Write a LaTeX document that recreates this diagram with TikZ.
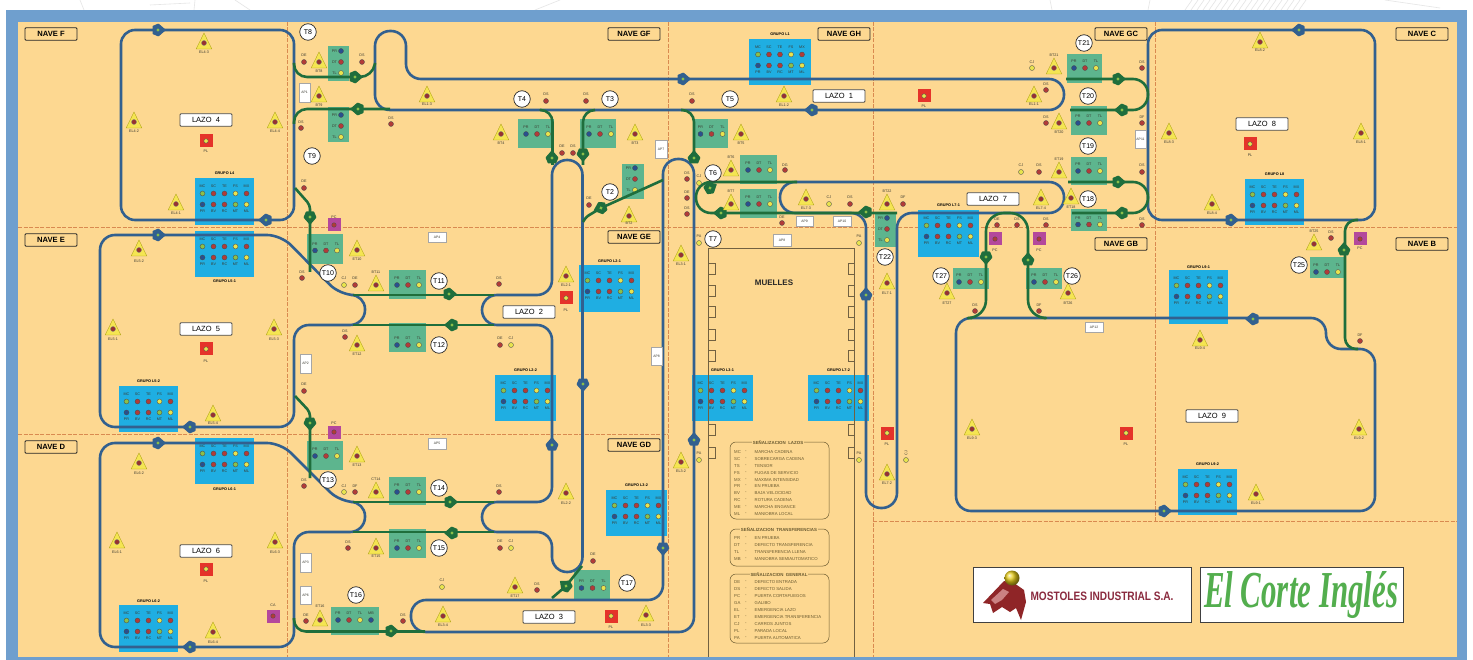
\documentclass[tikz,border=0pt]{standalone}
\usepackage{fontspec}
\setmainfont{Liberation Sans}
\newfontfamily\cifont{Liberation Serif}
\definecolor{frameblue}{HTML}{6F9FCE}
\definecolor{cream}{HTML}{FDD891}
\definecolor{dashc}{HTML}{D98A50}
\definecolor{grpblue}{HTML}{1FAEE2}
\definecolor{trgreen}{HTML}{5DB58E}
\definecolor{convblue}{HTML}{32608F}
\definecolor{convgreen}{HTML}{1F6E3C}
\definecolor{lred}{HTML}{B23B38}
\definecolor{lblue}{HTML}{28508F}
\definecolor{lgreen}{HTML}{8CC04A}
\definecolor{lyel}{HTML}{E8E44E}
\definecolor{triy}{HTML}{F5E552}
\definecolor{pred}{HTML}{E5332A}
\definecolor{ppur}{HTML}{B4489C}
\definecolor{lbltxt}{HTML}{3A3A30}
\definecolor{legtxt}{HTML}{6A5A30}
\definecolor{logored}{HTML}{A82C2E}
\definecolor{logotxt}{HTML}{8A2A3E}
\definecolor{logogreen}{HTML}{53AE4E}
\newcounter{nn}
\newcommand\nid{\stepcounter{nn}}
\newcommand\smallf{\fontsize{3.7}{4}\selectfont}
\tikzset{
  conv/.style={draw=convblue,line width=2.6pt,line join=round},
  convg/.style={draw=convgreen,line width=2.6pt,line join=round},
  lampst/.style={circle,draw=black!70,line width=.35pt,minimum size=5pt,inner sep=0pt},
  lblst/.style={inner sep=0pt,font=\smallf,text=lbltxt},
  navest/.style={draw=black!85,fill=cream,rounded corners=1pt,line width=.9pt,minimum width=52pt,minimum height=12.5pt,inner sep=0pt,text=black,font=\fontsize{7.6}{8}\selectfont\bfseries},
  lazost/.style={draw=black!70,fill=white,rounded corners=1pt,line width=.8pt,minimum width=52pt,minimum height=12.5pt,inner sep=0pt,font=\fontsize{7.5}{8}\selectfont},
  tcirc/.style={circle,draw=black!85,fill=white,line width=.7pt,minimum size=16.5pt,inner sep=0pt,font=\fontsize{7}{7}\selectfont},
  apst/.style={draw=black!35,fill=white,line width=.4pt,inner sep=0pt,font=\fontsize{3.4}{4}\selectfont,text=lbltxt},
  dashst/.style={draw=dashc,line width=.9pt,dash pattern=on 4pt off 1.5pt},
  muelle/.style={draw=black!55!cream,line width=.9pt},
  legst/.style={draw=legtxt,line width=.5pt,rounded corners=6pt},
  legtext/.style={inner sep=0pt,font=\fontsize{4.3}{5}\selectfont,text=legtxt,anchor=west},
  legtitle/.style={fill=cream,inner sep=1pt,font=\fontsize{4.4}{5}\selectfont\bfseries,text=legtxt},
}
\newcommand\lamp[3]{\nid\node[lampst,fill=#3] (n\thenn) at (#1,#2) {};}
\newcommand\lbl[3]{\nid\node[lblst] (n\thenn) at (#1,#2) {#3};}
\newcommand\lampt[5]{\lamp{#1}{#2}{#3}\lbl{#1}{#5}{#4}}
\newcommand\tri[4]{%
  \fill[triy,draw=olive!70!triy,line width=.35pt] (#1,#2-10) -- (#1+7.8,#2+6) -- (#1-7.8,#2+6) -- cycle;
  \nid\node[lampst,fill=lred!85!black,minimum size=5pt,draw=black!50] (n\thenn) at (#1,#2) {};
  \lbl{#1}{#4}{#3}}
\newcommand\grupo[6]{%
  \nid\fill[grpblue] (#1,#2) rectangle (#1+#3,#2+#4);
  \nid\node[inner sep=0pt,font=\fontsize{3.8}{4}\selectfont\bfseries] (n\thenn) at (#1+#3/2,#6) {#5};
  \foreach \dx/\a/\ca/\b/\cb in {-22/MC/lgreen/PR/lblue,-11/SC/lred/BV/lred,0/TE/lred/RC/lred,11/FS/lyel/MT/lgreen,22/MX/lred/ML/lyel}{
    \lbl{#1+#3/2+\dx}{#2+8}{\a}
    \lamp{#1+#3/2+\dx}{#2+15.5}{\ca}
    \lamp{#1+#3/2+\dx}{#2+26.5}{\cb}
    \lbl{#1+#3/2+\dx}{#2+33}{\b}
  }}
\newcommand\transH[6]{%
  \fill[trgreen] (#1,#2) rectangle (#3,#4);
  \foreach \dx/\a/\ca in {0/PR/lblue,11/DT/lred,22/TL/lyel}{
    \lbl{#5+\dx}{#6-6.5}{\a}
    \lamp{#5+\dx}{#6}{\ca}}}
\newcommand\transV[6]{%
  \fill[trgreen] (#1,#2) rectangle (#3,#4);
  \foreach \dy/\a/\ca in {0/PR/lblue,11/DT/lred,22/TL/lyel}{
    \lbl{#5-6.5}{#6+\dy}{\a}
    \lamp{#5}{#6+\dy}{\ca}}}
\newcommand\mk[4]{%
  \begin{scope}[shift={(#1,#2)},rotate=#3]
    \fill[#4,rounded corners=.6pt] (-5.5,-4) -- (0.5,-6.5) -- (8,0) -- (0.5,6.5) -- (-5.5,4) -- cycle;
    \fill[lgreen] (0,0) circle (1.7pt);
  \end{scope}}
\newcommand\plbox[3]{%
  \nid\node[fill=pred,minimum size=13pt,inner sep=0pt] (n\thenn) at (#1,#2) {};
  \nid\node[lampst,fill=lyel,minimum size=4.5pt] (n\thenn) at (#1,#2) {};
  \lbl{#1}{#3}{PL}}
\newcommand\pcbox[4]{%
  \nid\node[fill=ppur,minimum size=13pt,inner sep=0pt] (n\thenn) at (#1,#2) {};
  \nid\node[lampst,fill=lred,minimum size=4.5pt] (n\thenn) at (#1,#2) {};
  \lbl{#1}{#3}{#4}}
\newcommand\apb[6]{\nid\node[apst,minimum width=#3pt,minimum height=#4pt,#6] (n\thenn) at (#1,#2) {#5};}
\begin{document}
\begin{tikzpicture}[x=1pt,y=-1pt]
\useasboundingbox (0,0) rectangle (1473,660);
\fill[white] (0,0) rectangle (1473,660);
% faint sketch behind the top edge
\draw[black!10,line width=.6pt] (80,0) -- (84,10) (235,0) -- (250,10) (150,5) -- (190,3) (195,0) -- (194,10) (560,0) -- (535,10) (1050,0) -- (1052,10) (1150,0) -- (1148,10) (1385,0) -- (1440,8);
\foreach \x in {1185,1191,...,1300}{\draw[black!10,line width=.6pt] (\x,10) -- (\x+7,0);}
\fill[frameblue] (6,10) rectangle (1467,660);
\fill[cream] (18,22) rectangle (1457,657);
% dashed zones
\draw[dashst] (18,227) -- (1457,227);
\draw[dashst] (18,434) -- (668,434);
\draw[dashst] (873,521) -- (1457,521);
\draw[dashst] (287,22) -- (287,657);
\draw[dashst] (668,22) -- (668,657);
\draw[dashst] (873,22) -- (873,657);
\draw[dashst] (1155.5,22) -- (1155.5,521);
% groups
\grupo{195}{178}{59}{47}{GRUPO L4}{173}
\grupo{195}{231}{59}{46}{GRUPO L5-1}{281}
\grupo{119}{386}{59}{46}{GRUPO L5-2}{381}
\grupo{195}{438}{59}{46}{GRUPO L6-1}{489}
\grupo{119}{605}{59}{47}{GRUPO L6-2}{601}
\grupo{749}{39}{62}{46}{GRUPO L1}{34}
\grupo{579}{265}{61}{47}{GRUPO L2-1}{261}
\grupo{495}{375}{61}{46}{GRUPO L2-2}{370}
\grupo{606}{490}{61}{46}{GRUPO L3-2}{485}
\grupo{692}{375}{61}{46}{GRUPO L3-1}{370}
\grupo{808}{375}{61}{46}{GRUPO L7-2}{370}
\grupo{918}{210}{61}{47}{GRUPO L7-1}{205}
\grupo{1245}{179}{59}{46}{GRUPO L8}{174}
\grupo{1169}{270}{59}{54}{GRUPO L9-1}{267}
\grupo{1178}{469}{59}{46}{GRUPO L9-2}{464}
% transfers
\transV{328}{46}{349}{81}{341}{51}
\transV{328}{107}{349}{142}{341}{115}
\transH{307}{234}{343}{264}{315}{250.5}
\transH{389}{270}{426}{299}{397}{285}
\transH{389}{323}{426}{352}{397}{345}
\transH{307}{441}{343}{470}{315}{456}
\transH{389}{477}{426}{505}{397}{492}
\transH{389}{529}{426}{558}{397}{548}
\transH{331}{607}{379}{635}{338}{620}
\lbl{371}{613.5}{MB}\lamp{371}{620}{lblue}
\transH{574}{570}{610}{599}{581.5}{588}
\transH{518}{119}{554}{148}{526}{134}
\transH{580}{119}{616}{148}{589}{134}
\transV{622}{164}{644}{199}{635}{168}
\transH{693}{119}{728}{148}{700.5}{134}
\transH{740}{155}{777}{184}{748}{170}
\transH{740}{189}{777}{218}{748}{204}
\transV{875}{213}{896}{247}{887}{218}
\transH{1067}{54}{1102}{83}{1074}{68}
\transH{1071}{106}{1107}{135}{1078}{123}
\transH{1071}{157}{1107}{185}{1078}{171}
\transH{1071}{209}{1107}{231}{1078}{224.5}
\transH{953}{268}{989}{289}{959}{282}
\transH{1026}{268}{1062}{289}{1034}{282}
\transH{1310}{257}{1346}{278}{1316}{272}
% muelles
\draw[muelle] (708.5,657) -- (708.5,248) -- (854,248) -- (854,657);
\foreach \y in {269,291,312,335,356,430,453}{
  \draw[muelle,line width=.7pt] (709,\y-5.5) -- (715,\y-5.5) -- (715,\y+5.5) -- (709,\y+5.5);
  \draw[muelle,line width=.7pt] (854,\y-5.5) -- (848,\y-5.5) -- (848,\y+5.5) -- (854,\y+5.5);
}
\nid\node[inner sep=0pt,font=\fontsize{8}{8}\selectfont\bfseries,text=black!85] (n\thenn) at (774,283) {MUELLES};
% loops
\draw[conv,rounded corners=14pt] (200,30) -- (294,30) -- (294,220) -- (121,220) -- (121,30) -- cycle;
\draw[conv,rounded corners=14pt] (1250,30) -- (1375,30) -- (1375,220) -- (1148,220) -- (1148,30) -- cycle;
\draw[conv,rounded corners=14pt] (150,235) -- (281,235) -- (340,295) -- (365,295) [rounded corners=15pt] -- (365,325) -- (294,325) -- (294,427) -- (100,427) -- (100,235) -- cycle;
\draw[conv,rounded corners=14pt] (150,443) -- (281,443) -- (340,502) -- (365,502) [rounded corners=15pt] -- (365,532) -- (294,532) -- (294,647) -- (100,647) -- (100,443) -- cycle;
\draw[conv,rounded corners=15pt] (520,295) -- (552,295) -- (552,160) -- (582.5,160) -- (582.5,572) -- (552,572) -- (552,532) -- (482,532) -- (482,502) -- (552,502) -- (552,325) -- (482,325) -- (482,295) -- cycle;
\draw[conv,rounded corners=15pt] (500,600) -- (663,600) -- (663,159) -- (694,159) -- (694,632) -- (411,632) -- (411,600) -- cycle;
\draw[conv,rounded corners=15pt] (600,79) -- (1064,79) -- (1064,110) -- (375,110) -- (375,31) -- (406,31) -- (406,79) -- cycle;
\draw[conv,rounded corners=15pt] (950,182) -- (780,182) -- (780,213) -- (866,213) -- (866,508) -- (897,508) -- (897,213) -- (1064,213) -- (1064,182) -- cycle;
\draw[conv,rounded corners=15pt] (1100,318) -- (1326,318) -- (1326,349) -- (1375,349) -- (1375,511) -- (956,511) -- (956,318) -- cycle;
% green transfers
\draw[convg,rounded corners=13pt] (294,63) -- (294,77) -- (373,77) -- (375,63);
\draw[convg,rounded corners=13pt] (294,124) -- (294,109) -- (390,109);
\draw[convg,rounded corners=4pt] (295,188) -- (310,205) -- (310,272);
\draw[convg,rounded corners=4pt] (295,396) -- (310,412) -- (310,478);
\draw[convg] (353,295) -- (494,295);
\draw[convg] (353,325) -- (494,325);
\draw[convg] (353,502) -- (494,502);
\draw[convg] (353,532) -- (494,532);
\draw[convg,rounded corners=12pt] (294,618) -- (294,631.5) -- (425,631.5);
\draw[convg,rounded corners=3pt] (552,598) -- (566,586) -- (582,566);
\draw[convg,rounded corners=12pt] (541,110) -- (552.5,110) -- (552.5,165);
\draw[convg,rounded corners=12pt] (595,110) -- (583,110) -- (583,165);
\draw[convg,rounded corners=12pt] (681,110) -- (694,110) -- (694,160);
\draw[convg,rounded corners=3pt] (583,222) -- (586,217) -- (601,208) -- (663,180);
\draw[convg,rounded corners=15pt] (797,182) -- (696,182) -- (696,213) -- (897,213);
\draw[convg,rounded corners=15pt] (1066,79) -- (1148,79) -- (1148,110) -- (1070,110);
\draw[convg,rounded corners=15pt] (1068,182) -- (1148,182) -- (1148,213) -- (1072,213);
\draw[convg,rounded corners=18pt] (972,318) -- (986,318) -- (986,213) -- (1028,213) -- (1028,318) -- (1044,318);
\draw[convg,rounded corners=11pt] (1358,220) -- (1345,220) -- (1345,349) -- (1358,349);
% markers
\foreach \x/\y/\a in {158/30/0,266/220/180,158/235/0,190/427/180,158/443/0,190/647/180,683/79/0,812/110/180,1299/30/180,1231/220/0,1253/319/180,1164/511/0,583/384/-90,552/445/90,663/548/-90,694/440/90,866/295/90}{\mk{\x}{\y}{\a}{convblue}}
\foreach \x/\y/\a in {355/77/0,358/109/180,310/217/-90,449/294/0,452/325/180,310/423/-90,450/502/0,452/533/180,391/631/0,566/586/140,552/158/90,583/154/-90,694/158/90,601/208/200,710/188/30,721/213/180,866/212/180,1118/79/0,1122/110/180,1118/182/0,1122/213/180,986/257/-90,1028/260/90,1344/250/90}{\mk{\x}{\y}{\a}{convgreen}}
% triangles
\foreach \x/\y/\t/\l in {204/43/EL4-3/52,134/122/EL4-2/131,275/122/EL4-4/131,176/204/EL4-1/213,319/62/BT8/71,319/96/BT9/105,427/96/EL1-3/104,139/250/EL5-2/261,113/329/EL5-1/339,274/329/EL5-3/339,213/415/EL5-4/423,357/250/ET10/259,376/285/BT11/272,357/345/ET12/354,357/456/ET13/465,376/492/CT14/479,376/548/ET15/556,320/620/ET16/606,139/463/EL6-2/473,117/542/EL6-1/552,275/542/EL6-3/552,213/632/EL6-4/642,443/616/EL3-4/625,501/134/BT4/143,635/134/BT3/143,741/134/BT5/143,784/96/EL1-2/105,731/170/BT6/157,731/204/BT7/191,806/199/EL7-3/208,629/216/BT2/223,887/204/BT22/191,681/255/EL3-1/264,566/276/EL2-1/285,887/283/EL7-1/293,947/293/ET27/303,566/493/EL2-2/503,515/587/ET17/596,646/615/EL3-3/625,681/462/EL3-2/471,887/474/EL7-2/483,972/429/EL9-3/438,1260/42/EL8-2/50,1169/133/EL8-3/142,1361/133/EL8-1/142,1212/204/EL8-4/213,1054/68/BT21/55,1034/96/EL1-1/104,1059/123/BT20/132,1059/172/ET19/159,1041/199/EL7-4/208,1071/198/ET18/207,1068/293/BT26/303,1314/244/BT25/231,1200/340/EL9-4/348,1359/429/EL9-2/438,1256/494/EL9-1/503}{\tri{\x}{\y}{\t}{\l}}
% lamps red
\foreach \x/\y/\t/\l in {304/62/DE/55,362/62/DS/55,301/128/DS/122,391/124/DS/118,304/188/DE/181,302/278/DS/272,355/285/DE/278,499/284/DS/278,345/337/DS/331,304/391/DE/384,304/486/DS/480,355/492/DF/486,348/548/DS/542,306/621/DE/615,403/621/DS/615,500/345/DE/338,499/492/DS/486,500/548/DE/541,593/561/DE/554,537/590/DS/584,546/101/DS/94,586/101/DS/94,692/101/DS/94,562/153/DE/146,573/153/DS/146,687/179/DS/173,687/198/DE/192,687/214/DS/208,589/205/DE/198,785/170/DG/165,850/204/DS/197,782/223/DE/217,903/204/DF/197,975/311/DS/305,1142/68/DS/62,1046/90/DS/84,1046/123/DS/117,1142/123/DF/117,1039/172/DS/165,1142/172/DS/165,997/225/DE/219,1017/225/DS/219,1046/225/DS/219,1142/225/DS/219,1331/238/DS/232,1039/311/DF/305,1360/341/DF/335}{\lampt{\x}{\y}{lred}{\t}{\l}}
% lamps yellow
\foreach \x/\y/\t/\l in {344/285/CJ/278,344/492/CJ/486,442/587/CJ/580,511/345/CJ/338,511/548/CJ/541,699/183/CJ/176,829/204/CJ/197,699/243/PA/236,859/243/PA/236,699/460/PA/453,859/460/PA/453,1032/68/CJ/62,1021/172/CJ/165}{\lampt{\x}{\y}{lyel}{\t}{\l}}
\lamp{906}{460}{lyel}
\nid\node[lblst,rotate=90] (n\thenn) at (906,453) {CJ};
% PL and PC squares
\plbox{206}{141}{151}
\plbox{206}{349}{361}
\plbox{206}{569}{581}
\plbox{566}{298}{310}
\plbox{611}{616}{627}
\plbox{924}{96}{106}
\plbox{887}{433}{444}
\plbox{1250}{144}{155}
\plbox{1126}{433}{444}
\pcbox{334}{225}{217}{PC}
\pcbox{334}{432}{423}{PC}
\pcbox{273}{616}{605}{CA}
\pcbox{995}{239}{250}{PC}
\pcbox{1039}{239}{250}{PC}
\pcbox{1360}{239}{248}{PC}
% AP boxes
\apb{304.5}{92.5}{11}{19}{AP1}{}
\apb{437}{237}{18}{10}{AP4}{}
\apb{305.5}{363.5}{11}{19}{AP2}{}
\apb{437}{443.5}{18}{11}{AP5}{}
\apb{305.5}{562.5}{11}{19}{AP3}{}
\apb{305.5}{595}{11}{18}{AP6}{}
\apb{661}{149}{12}{18}{AP7}{}
\apb{656.5}{356}{11}{18}{AP8}{}
\apb{804.5}{221}{17}{10}{AP9}{}
\apb{842}{221}{18}{10}{AP10}{}
\apb{782}{240}{18}{12}{AP8}{}
\apb{1140.5}{139}{11}{18}{AP11}{}
\apb{1094}{327}{18}{10}{AP12}{}
% T circles
\foreach \x/\y/\t in {308/32/T8,312/156/T9,328/273/T10,439/281/T11,439/345/T12,328/480/T13,439/488/T14,439/548/T15,356/595/T16,627/583/T17,522/99/T4,610/99/T3,730/99/T5,713/173/T6,610/192/T2,713/239/T7,885/257/T22,941/276/T27,1072/276/T26,1299/265/T25,1088/199/T18,1088/146/T19,1088/96/T20,1084/43/T21}{\nid\node[tcirc] (n\thenn) at (\x,\y) {\t};}
% NAVE
\foreach \x/\y/\t in {51/34/NAVE F,51/240/NAVE E,51/447/NAVE D,634/34/NAVE GF,844/34/NAVE GH,1121/34/NAVE GC,1422/34/NAVE C,634/237/NAVE GE,634/445/NAVE GD,1121/244/NAVE GB,1422/244/NAVE B}{\nid\node[navest] (n\thenn) at (\x,\y) {\t};}
% LAZO
\foreach \x/\y/\t in {206/120/4,206/329/5,206/551/6,529/312/2,549/617/3,839/96/1,993/199/7,1262/124/8,1212/416/9}{\nid\node[lazost] (n\thenn) at (\x,\y) {LAZO\ \ \t};}
% legends
\draw[legst] (730,442) rectangle (829,519);
\nid\node[legtitle] (n\thenn) at (778,443) {SEÑALIZACION\ \ LAZOS};
\foreach \y/\c/\t in {452/MC/MARCHA CADENA,459/SC/SOBRECARGA CADENA,466/TS/TENSOR,473/FS/FUGAS DE SERVICIO,480/MX/MAXIMA INTENSIDAD,486/PR/EN PRUEBA,493/BV/BAJA VELOCIDAD,500/RC/ROTURA CADENA,507/ME/MARCHA ENGANCE,514/ML/MANIOBRA LOCAL}{
  \nid\node[legtext] (n\thenn) at (734,\y) {\c}; \nid\node[legtext] (n\thenn) at (745,\y) {-}; \nid\node[legtext] (n\thenn) at (754.5,\y) {\t};}
\draw[legst] (730,529) rectangle (829,566);
\nid\node[legtitle] (n\thenn) at (779,530) {SEÑALIZACION\ \ TRANSFERENCIAS};
\foreach \y/\c/\t in {538/PR/EN PRUEBA,545/DT/DEFECTO TRANSFERENCIA,552/TL/TRANSFERENCIA LLENA,559/MB/MANIOBRA SEMIAUTOMATICO}{
  \nid\node[legtext] (n\thenn) at (734,\y) {\c}; \nid\node[legtext] (n\thenn) at (745,\y) {-}; \nid\node[legtext] (n\thenn) at (754.5,\y) {\t};}
\draw[legst] (730,574) rectangle (829,643);
\nid\node[legtitle] (n\thenn) at (779,574.5) {SEÑALIZACION\ \ GENERAL};
\foreach \y/\c/\t in {582/DE/DEFECTO ENTRADA,589/DS/DEFECTO SALIDA,596/PC/PUERTA CORTAFUEGOS,603/GA/GALIBO,610/EL/EMERGENCIA LAZO,617/ET/EMERGENCIA TRANSFERENCIA,624/CJ/CARROS JUNTOS,631/PL/PARADA LOCAL,638/PA/PUERTA AUTOMATICA}{
  \nid\node[legtext] (n\thenn) at (734,\y) {\c}; \nid\node[legtext] (n\thenn) at (745,\y) {-}; \nid\node[legtext] (n\thenn) at (754.5,\y) {\t};}
% logos
\draw[fill=white,draw=black!75,line width=.7pt] (973,567) rectangle (1191.5,622);
\draw[fill=white,draw=black!75,line width=.7pt] (1200.5,567) rectangle (1403,622);
\fill[logored!85!black] (983,603) -- (1004,581) -- (1014,583) -- (1024,590) -- (1026,602) -- (1021,620) -- (1016,608) -- (1010,612) -- (1002,607) -- (993,613) -- (990,604) -- cycle;
\fill[logored!60!white] (991,600) -- (1003,589) -- (1009,592) -- (1002,600) -- (995,604) -- cycle;
\shade[ball color=yellow!60!brown] (1012,578) circle (7.5pt);
\nid\node[inner sep=0pt,text=logotxt] (n\thenn) at (1102,596) {\resizebox{143pt}{8.5pt}{\bfseries MOSTOLES INDUSTRIAL S.A.}};
\nid\node[inner sep=0pt,text=logogreen] (n\thenn) at (1301,595) {\resizebox{194pt}{36pt}{\cifont\bfseries\itshape El Corte Inglés}};
\end{tikzpicture}
\end{document}
